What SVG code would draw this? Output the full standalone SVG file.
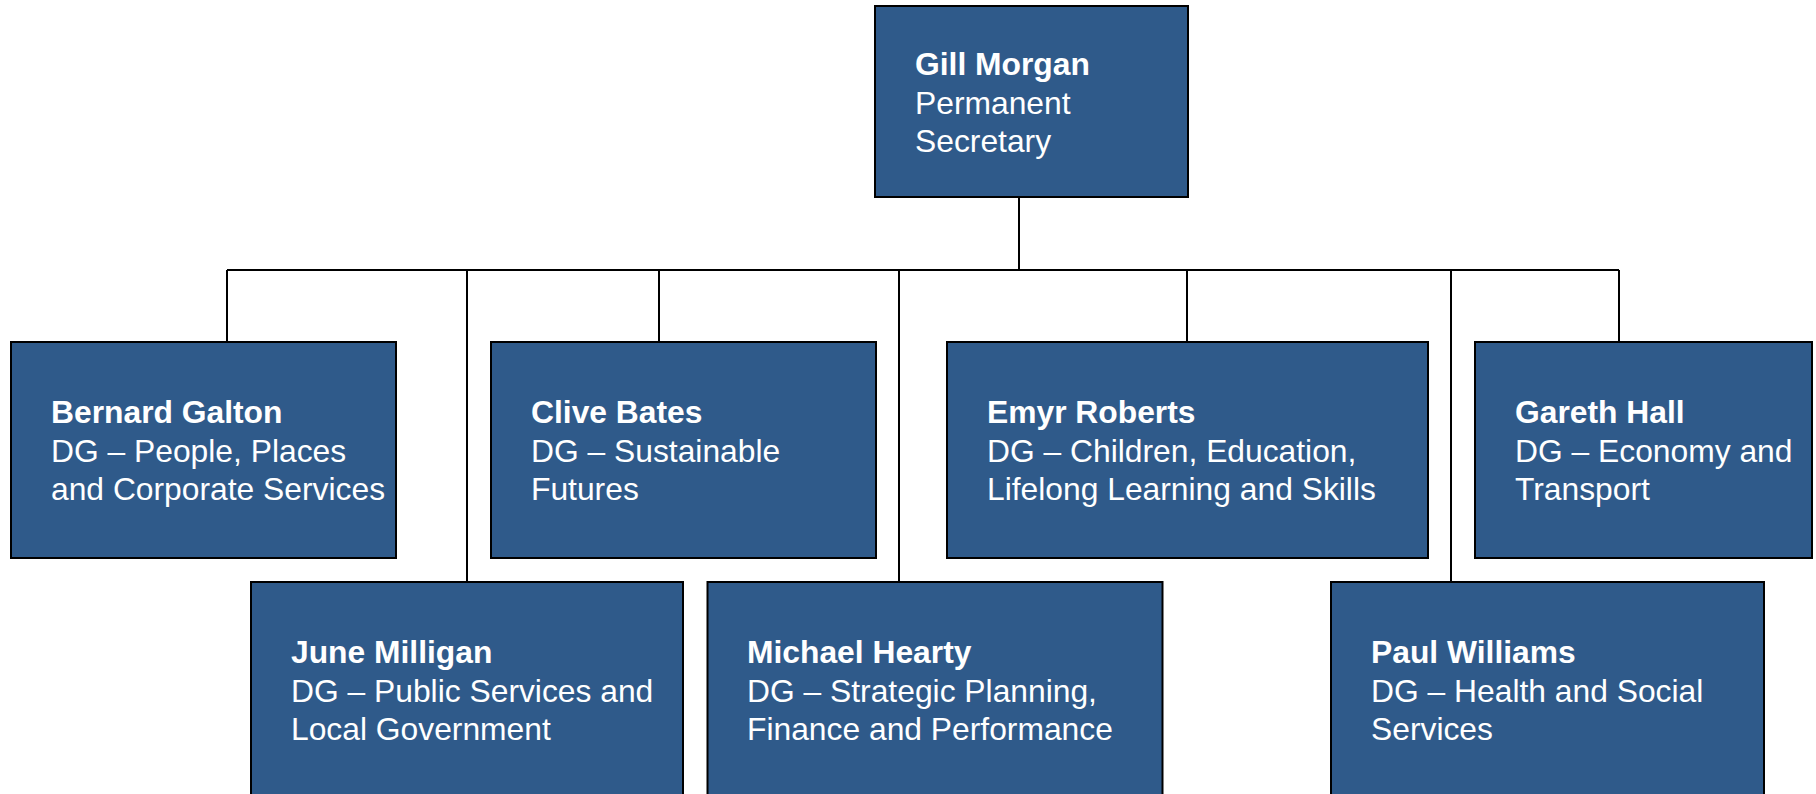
<svg xmlns="http://www.w3.org/2000/svg" width="1816" height="794" viewBox="0 0 1816 794">
<style>
.box{fill:#2F5A8A;stroke:#000;stroke-width:2}
.line{stroke:#000;stroke-width:2;fill:none}
text{font-family:"Liberation Sans",Arial,sans-serif;font-size:31.8px;fill:#fff}
.n{font-weight:bold}
</style>
<rect width="1816" height="794" fill="#fff"/>
<g id="connectors">
<path class="line" d="M1019,197V270M227,270H1619M227,270V342M467,270V582M659,270V342M899,270V582M1187,270V342M1451,270V582M1619,270V342"/>
</g>
<g id="gill">
<rect class="box" x="875" y="6" width="313" height="191"/>
<text x="915" y="75"><tspan class="n">Gill Morgan</tspan><tspan x="915" dy="38.5">Permanent</tspan><tspan x="915" dy="38.5">Secretary</tspan></text>
</g>
<g id="bernard">
<rect class="box" x="11" y="342" width="385" height="216"/>
<text x="51" y="423"><tspan class="n">Bernard Galton</tspan><tspan x="51" dy="38.5">DG – People, Places</tspan><tspan x="51" dy="38.5">and Corporate Services</tspan></text>
</g>
<g id="clive">
<rect class="box" x="491" y="342" width="385" height="216"/>
<text x="531" y="423"><tspan class="n">Clive Bates</tspan><tspan x="531" dy="38.5">DG – Sustainable</tspan><tspan x="531" dy="38.5">Futures</tspan></text>
</g>
<g id="emyr">
<rect class="box" x="947" y="342" width="481" height="216"/>
<text x="987" y="423"><tspan class="n">Emyr Roberts</tspan><tspan x="987" dy="38.5">DG – Children, Education,</tspan><tspan x="987" dy="38.5">Lifelong Learning and Skills</tspan></text>
</g>
<g id="gareth">
<rect class="box" x="1475" y="342" width="337" height="216"/>
<text x="1515" y="423"><tspan class="n">Gareth Hall</tspan><tspan x="1515" dy="38.5">DG – Economy and</tspan><tspan x="1515" dy="38.5">Transport</tspan></text>
</g>
<g id="june">
<rect class="box" x="251" y="582" width="432" height="230"/>
<text x="291" y="663"><tspan class="n">June Milligan</tspan><tspan x="291" dy="38.5">DG – Public Services and</tspan><tspan x="291" dy="38.5">Local Government</tspan></text>
</g>
<g id="michael">
<rect class="box" x="707.5" y="582" width="455" height="230"/>
<text x="747" y="663"><tspan class="n">Michael Hearty</tspan><tspan x="747" dy="38.5">DG – Strategic Planning,</tspan><tspan x="747" dy="38.5">Finance and Performance</tspan></text>
</g>
<g id="paul">
<rect class="box" x="1331" y="582" width="433" height="230"/>
<text x="1371" y="663"><tspan class="n">Paul Williams</tspan><tspan x="1371" dy="38.5">DG – Health and Social</tspan><tspan x="1371" dy="38.5">Services</tspan></text>
</g>
</svg>
